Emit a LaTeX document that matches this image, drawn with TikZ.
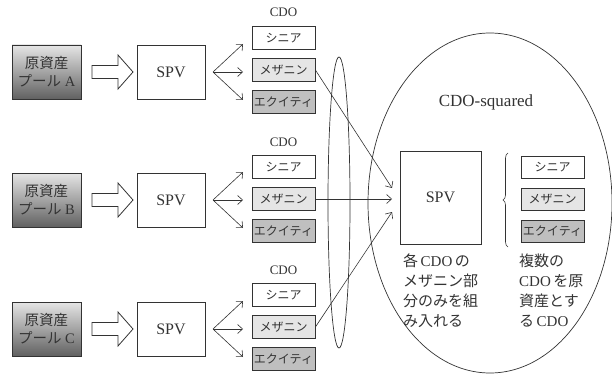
\documentclass[tikz,border=0pt]{standalone}
\usepackage{fontspec}
\setmainfont{Liberation Serif}
\newfontfamily\jp{Noto Sans CJK JP}
\usetikzlibrary{arrows.meta,decorations.pathreplacing,shapes.geometric}
\definecolor{ink}{HTML}{333333}
\begin{document}
\begin{tikzpicture}[x=1pt,y=-1pt,
  every node/.style={text=ink},
  pool/.style={draw=ink, line width=0.8pt, top color=black!10, bottom color=black!62,
    minimum width=69pt, minimum height=54pt, align=center, inner sep=0pt,
    font=\fontsize{14.5}{18}\selectfont},
  spvbox/.style={draw=ink, line width=0.8pt, fill=white, minimum width=68pt, minimum height=54pt,
    inner sep=0pt, font=\fontsize{16}{16}\selectfont},
  tranche/.style={draw=ink, line width=0.8pt, minimum width=63pt, minimum height=23pt, inner sep=0pt,
    font=\jp\fontsize{12}{12}\selectfont},
  sen/.style={tranche, fill=white},
  mez/.style={tranche, fill=black!10},
  eqt/.style={tranche, fill=black!25},
  cdolbl/.style={font=\fontsize{13}{13}\selectfont, inner sep=0pt},
  blk/.style={draw=ink, line width=0.8pt, fill=white},
  arr/.style={draw=ink, line width=0.6pt, -{Straight Barb[length=5pt,width=9pt]}},
  lowtxt/.style={anchor=north west, align=left, inner sep=0pt, font=\fontsize{15}{20}\selectfont}
]
\useasboundingbox (0,0) rectangle (612,374);

% big ellipse (CDO-squared)
\node[ellipse, draw=ink, line width=0.7pt, minimum width=244pt, minimum height=340pt, inner sep=0pt] (big) at (490,203) {};
\node[font=\fontsize{17}{17}\selectfont, inner sep=0pt] (sqlbl) at (486,102) {CDO-squared};

% thin ellipse
\node[ellipse, draw=ink, line width=0.7pt, minimum width=22pt, minimum height=291pt, inner sep=0pt] (thin) at (339,202.5) {};

% rows
\foreach \r/\y/\L in {A/72/A,B/200/B,C/329/C}{
  \node[pool] (pool\r) at (46.5,\y) {{\jp 原資産}\\{\jp プール} \L};
  \draw[blk] (92,\y-6.5) -- (118,\y-6.5) -- (118,\y-17) -- (133,\y) -- (118,\y+17) -- (118,\y+6.5) -- (92,\y+6.5) -- cycle;
  \node[spvbox] (spv\r) at (171,\y) {SPV};
  \coordinate (fork\r) at (213,\y);
  \coordinate (tipS\r) at (243,\y-28);
  \coordinate (tipM\r) at (243,\y);
  \coordinate (tipE\r) at (243,\y+28);
  \draw[arr] (fork\r) -- (tipS\r);
  \draw[arr] (fork\r) -- (tipM\r);
  \draw[arr] (fork\r) -- (tipE\r);
}

% CDO tranches
\foreach \r/\c/\l in {A/70/12,B/199/142,C/327/270}{
  \node[cdolbl] (cdo\r) at (283.5,\l) {CDO};
  \node[sen] (sen\r) at (283.5,\c-32) {シニア};
  \node[mez] (mez\r) at (283.5,\c) {メザニン};
  \node[eqt] (eq\r) at (283.5,\c+32) {エクイティ};
}

% SPV in CDO-squared
\node[spvbox, minimum width=81pt, minimum height=93pt] (spv2) at (440.5,197.5) {SPV};
\coordinate (inA) at (392,188);
\coordinate (inB) at (392,199);
\coordinate (inC) at (392,212);
\draw[arr] (mezA.east) -- (inA);
\draw[arr] (mezB.east) -- (inB);
\draw[arr] (mezC.east) -- (inC);

% brace and tranches of CDO-squared
\coordinate (brB) at (508,247);
\coordinate (brT) at (508,153);
\draw[ink, line width=0.6pt, decorate, decoration={brace, amplitude=5pt}] (brB) -- (brT);
\node[sen, minimum height=22pt] (sen2) at (552.5,167.5) {シニア};
\node[mez, minimum height=22pt] (mez2) at (552.5,199) {メザニン};
\node[eqt, minimum height=22pt] (eq2) at (552.5,231.5) {エクイティ};

% texts
\node[lowtxt] (txtL) at (403,254) {{\jp 各}\,CDO\,{\jp の}\\{\jp メザニン部}\\{\jp 分のみを組}\\{\jp み入れる}};
\node[lowtxt] (txtR) at (519,254) {{\jp 複数の}\\CDO\,{\jp を原}\\{\jp 資産とす}\\{\jp る}\,CDO};
\end{tikzpicture}
\end{document}
